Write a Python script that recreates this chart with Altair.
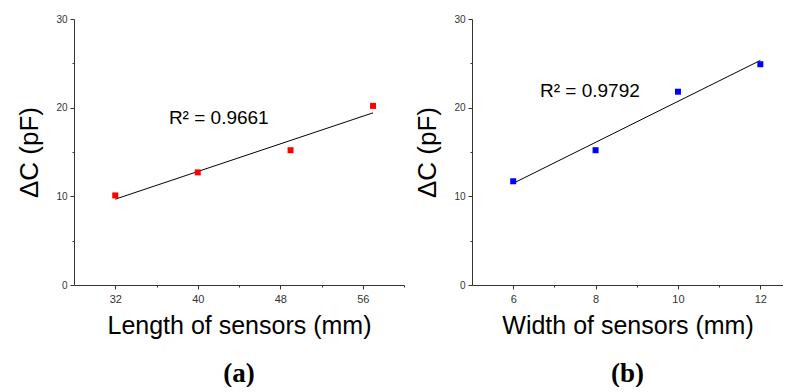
import altair as alt
import pandas as pd

# ---- data ----
length_mm = [32, 40, 49, 57]
dc_length = [10.1, 12.7, 15.2, 20.2]
width_mm = [6, 8, 10, 12]
dc_width = [11.7, 15.2, 21.8, 24.9]

r2_length = "R² = 0.9661"
r2_width = "R² = 0.9792"
r2_length_pos = [37.2, 18.8]   # data coordinates of label start
r2_width_pos = [6.65, 21.85]

y_ticks = [0, 5, 10, 15, 20, 25, 30]
x_ticks_a = [32, 36, 40, 44, 48, 52, 56, 60]
x_ticks_b = [6, 7, 8, 9, 10, 11, 12]

FONT = "Liberation Sans"


def panel(xs, ys, color, xdomain, xticks, major_mod, xtitle, r2, r2pos, label, w):
    df = pd.DataFrame({"x": xs, "y": ys})
    xscale = alt.Scale(domain=xdomain, nice=False, zero=False)
    yscale = alt.Scale(domain=[0, 30], nice=False)
    xaxis = alt.Axis(
        values=xticks,
        labelExpr=f"datum.value % {major_mod} == 0 ? datum.label : ''",
        tickSize={"condition": {"test": f"datum.value % {major_mod} != 0", "value": 2}, "value": 4},
        title=xtitle,
        titleFontSize=25,
        titlePadding=9,
        labelFontSize=11,
        labelPadding=4,
        labelFlush=False,
    )
    yaxis = alt.Axis(
        values=y_ticks,
        labelExpr="datum.value % 10 == 0 ? datum.label : ''",
        tickSize={"condition": {"test": "datum.value % 10 != 0", "value": 2}, "value": 4},
        title="ΔC (pF)",
        titleFontSize=26,
        titlePadding=13,
        labelFontSize=10,
        labelPadding=3,
        labelFlush=False,
    )
    enc = dict(
        x=alt.X("x:Q", scale=xscale, axis=xaxis),
        y=alt.Y("y:Q", scale=yscale, axis=yaxis),
    )
    base = alt.Chart(df)
    pts = base.mark_square(size=36, color=color, opacity=1).encode(**enc)
    fit = base.transform_regression("x", "y").mark_line(color="black", strokeWidth=1).encode(**enc)
    tdf = pd.DataFrame({"x": [r2pos[0]], "y": [r2pos[1]], "t": [r2]})
    txt = alt.Chart(tdf).mark_text(
        align="left", baseline="middle", fontSize=19, font=FONT, color="black"
    ).encode(text="t:N", **enc)
    return alt.layer(fit, pts, txt).properties(
        width=w,
        height=266,
        title=alt.TitleParams(
            text=label, orient="bottom", font="Liberation Serif", fontSize=27,
            fontWeight="bold", color="black", offset=23, anchor="middle",
        ),
    )


pa = panel(length_mm, dc_length, "#ff0000", [28, 60], x_ticks_a, 8,
           "Length of sensors (mm)", r2_length, r2_length_pos, "(a)", 330)
pb = panel(width_mm, dc_width, "#0000ff", [5, 12.55], x_ticks_b, 2,
           "Width of sensors (mm)", r2_width, r2_width_pos, "(b)", 311)

chart = alt.hconcat(pa, pb, spacing=9).properties(
    padding={"left": 8, "top": 6, "right": 0, "bottom": 0},
    background="white",
).configure_view(stroke=None).configure_axis(
    grid=False,
    domainColor="#333333",
    tickColor="#333333",
    labelColor="#333333",
    labelFont=FONT,
    titleFont=FONT,
    titleFontWeight="normal",
    titleColor="black",
)

chart.save("out.html", embed_options={"renderer": "svg", "actions": False})
